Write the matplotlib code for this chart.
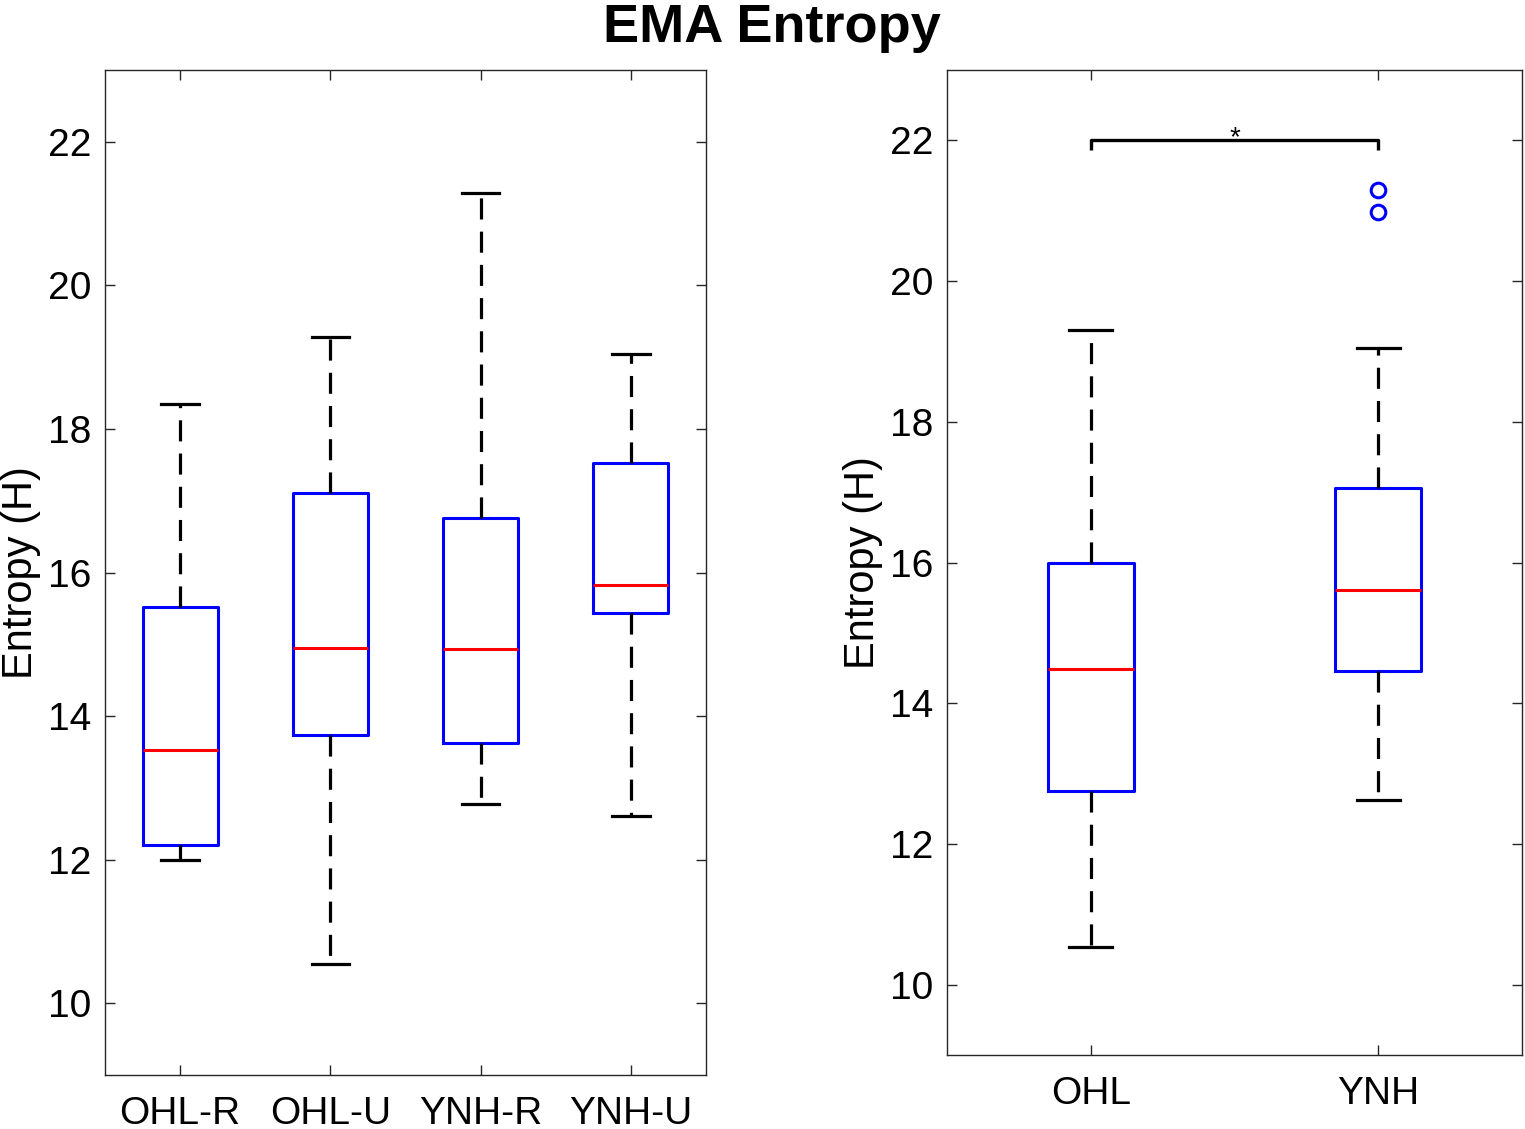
import matplotlib
matplotlib.use("Agg")
import matplotlib.pyplot as plt

plt.rcParams['font.family'] = ['Liberation Sans', 'DejaVu Sans']

# left panel: four groups
groups_4 = ['OHL-R', 'OHL-U', 'YNH-R', 'YNH-U']
whislo_4 = [11.99, 10.54, 12.77, 12.61]
q1_4 = [12.21, 13.74, 13.63, 15.43]
med_4 = [13.53, 14.95, 14.94, 15.83]
q3_4 = [15.52, 17.11, 16.76, 17.53]
whishi_4 = [18.35, 19.28, 21.28, 19.05]
fliers_4 = [[], [], [], []]

# right panel: two groups
groups_2 = ['OHL', 'YNH']
whislo_2 = [10.54, 12.63]
q1_2 = [12.75, 14.46]
med_2 = [14.48, 15.61]
q3_2 = [16.00, 17.06]
whishi_2 = [19.31, 19.05]
fliers_2 = [[], [21.29, 20.98]]

sig_y = 22.0
sig_drop = 0.13


def make_stats(labels, lo, q1, med, q3, hi, fl):
    out = []
    for i in range(len(labels)):
        out.append(dict(label=labels[i], whislo=lo[i], q1=q1[i], med=med[i],
                        q3=q3[i], whishi=hi[i], fliers=fl[i]))
    return out


def draw_box(ax, stats, width):
    ax.bxp(stats, widths=width, showfliers=True,
           boxprops=dict(color='#0000ff', linewidth=2.2),
           medianprops=dict(color='#ff0000', linewidth=2.2),
           whiskerprops=dict(color='black', linewidth=2.3, linestyle=(0, (6.6, 3.8))),
           capprops=dict(color='black', linewidth=2.3),
           flierprops=dict(marker='o', markerfacecolor='none', markeredgecolor='#0000ff',
                           markersize=10.5, markeredgewidth=2.2))
    ax.set_ylim(9, 23)
    ax.set_xlim(0.5, len(stats) + 0.5)
    ax.set_yticks([10, 12, 14, 16, 18, 20, 22])
    ax.tick_params(direction='in', length=7, width=1, top=True, right=True,
                   labelsize=28, colors='#262626', labelcolor='black')
    ax.tick_params(axis='y', pad=10)
    ax.tick_params(axis='x', pad=15)
    for s in ax.spines.values():
        s.set_color('#262626')
        s.set_linewidth(1)
    ax.set_ylabel('Entropy (H)', fontsize=30, labelpad=5)


fig = plt.figure(figsize=(15.25, 11.29), dpi=100)

ax1 = fig.add_axes([105 / 1525, 1 - 1075 / 1129, 601 / 1525, 1005 / 1129])
stats4 = make_stats(groups_4, whislo_4, q1_4, med_4, q3_4, whishi_4, fliers_4)
draw_box(ax1, stats4, 0.5)

ax2 = fig.add_axes([947 / 1525, 1 - 1055 / 1129, 575 / 1525, 985 / 1129])
stats2 = make_stats(groups_2, whislo_2, q1_2, med_2, q3_2, whishi_2, fliers_2)
draw_box(ax2, stats2, 0.3)

# significance bracket between OHL and YNH
ax2.plot([1, 1, 2, 2], [sig_y - sig_drop, sig_y, sig_y, sig_y - sig_drop],
         color='black', linewidth=2.4, solid_capstyle='butt')
ax2.text(1.5, sig_y - 0.15, '*', ha='center', va='bottom', fontsize=20)

fig.suptitle('EMA Entropy', fontsize=39, fontweight='bold', x=772 / 1525, y=0.997, va='top')

fig.savefig('out.png', dpi=100)
